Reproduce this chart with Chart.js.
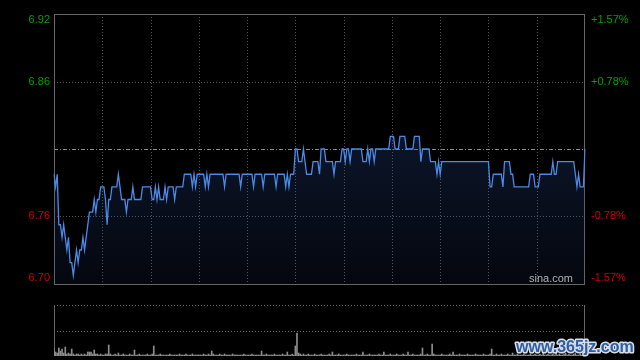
<!DOCTYPE html>
<html><head><meta charset="utf-8">
<script src="https://cdn.jsdelivr.net/npm/chart.js@4.4.1/dist/chart.umd.min.js"></script>
<style>
html,body{margin:0;padding:0;background:#000;width:640px;height:360px;overflow:hidden}
.box{position:absolute;left:0;width:640px}
</style></head><body>
<div class="box" style="top:0;height:300px"><canvas id="main" width="640" height="300"></canvas></div>
<div class="box" style="top:300px;height:60px"><canvas id="vol" width="640" height="60"></canvas></div>
<script>
// ---- data ----
const prevClose = 6.81;
const pctTicks = [1.57, 0.78, -0.78, -1.57];
const leftTickLabels = ['6.92', '6.86', '6.76', '6.70'];
const rightTickLabels = ['+1.57%', '+0.78%', '-0.78%', '-1.57%'];
const sessions = [['09:30', 150], ['13:00', 181]]; // start, minutes count

const prices = [
6.79,6.78,6.79,6.75,6.75,6.74,6.75,6.74,6.73,6.74,
6.72,6.72,6.71,6.72,6.73,6.72,6.73,6.73,6.74,6.73,
6.74,6.75,6.76,6.76,6.76,6.77,6.76,6.77,6.77,6.78,
6.78,6.78,6.77,6.75,6.77,6.77,6.78,6.78,6.78,6.78,
6.79,6.78,6.77,6.77,6.77,6.76,6.77,6.77,6.77,6.78,
6.77,6.77,6.77,6.77,6.77,6.78,6.78,6.78,6.78,6.78,
6.78,6.77,6.77,6.78,6.77,6.78,6.77,6.77,6.77,6.78,
6.77,6.78,6.78,6.78,6.78,6.77,6.78,6.78,6.78,6.78,
6.78,6.79,6.79,6.79,6.79,6.79,6.78,6.79,6.78,6.79,
6.79,6.79,6.79,6.79,6.78,6.79,6.78,6.79,6.79,6.79,
6.79,6.79,6.79,6.79,6.79,6.79,6.78,6.79,6.79,6.79,
6.79,6.79,6.79,6.79,6.79,6.79,6.78,6.79,6.79,6.79,
6.79,6.79,6.79,6.79,6.78,6.79,6.79,6.79,6.79,6.79,
6.78,6.79,6.79,6.79,6.79,6.79,6.79,6.79,6.78,6.79,
6.79,6.79,6.79,6.79,6.78,6.79,6.78,6.79,6.79,6.79,
6.81,6.81,6.80,6.80,6.80,6.81,6.80,6.79,6.79,6.79,
6.79,6.80,6.80,6.80,6.80,6.79,6.81,6.81,6.81,6.80,
6.80,6.80,6.80,6.80,6.79,6.80,6.80,6.80,6.80,6.81,
6.81,6.80,6.81,6.81,6.80,6.81,6.81,6.81,6.81,6.81,
6.81,6.81,6.80,6.80,6.80,6.81,6.80,6.81,6.81,6.80,
6.81,6.81,6.81,6.81,6.81,6.81,6.81,6.81,6.81,6.82,
6.82,6.82,6.81,6.81,6.81,6.82,6.82,6.82,6.82,6.81,
6.81,6.81,6.81,6.81,6.82,6.82,6.82,6.82,6.80,6.81,
6.81,6.81,6.81,6.81,6.80,6.80,6.80,6.80,6.79,6.80,
6.79,6.80,6.80,6.80,6.80,6.80,6.80,6.80,6.80,6.80,
6.80,6.80,6.80,6.80,6.80,6.80,6.80,6.80,6.80,6.80,
6.80,6.80,6.80,6.80,6.80,6.80,6.80,6.80,6.80,6.80,
6.80,6.78,6.78,6.79,6.79,6.79,6.79,6.79,6.79,6.78,
6.80,6.80,6.80,6.80,6.79,6.79,6.78,6.78,6.78,6.78,
6.78,6.78,6.78,6.78,6.78,6.78,6.79,6.79,6.79,6.78,
6.78,6.78,6.79,6.79,6.79,6.79,6.79,6.79,6.79,6.79,
6.80,6.79,6.79,6.80,6.80,6.80,6.80,6.80,6.80,6.80,
6.80,6.80,6.80,6.80,6.79,6.78,6.79,6.78,6.78,6.78,
6.81
];

const volumes = [
8,4,3,8,5,7,3,9,2,3, 2,7,2,1,2,2,1,2,1,2, 1,4,4,4,2,6,2,2,1,2,
1,1,2,2,11,2,1,1,2,1, 3,1,1,2,1,1,1,2,1,1, 6,1,1,2,1,1,1,1,2,1,
1,2,10,1,1,1,2,1,1,1, 1,1,2,1,1,1,1,1,2,1, 1,1,2,1,1,1,2,1,1,1,
1,1,1,2,1,1,2,1,5,2, 1,1,1,2,1,1,2,1,1,1, 1,2,1,1,1,1,1,1,2,1,
1,1,1,2,1,1,1,1,1,5, 1,1,2,1,1,1,1,2,1,1, 1,1,2,1,1,4,1,1,2,1,
10,23,3,2,1,2,1,1,2,1, 1,1,2,1,1,1,2,1,1,1, 1,2,1,4,1,1,1,2,1,1,
1,1,2,1,1,1,1,1,2,1, 1,1,4,1,1,1,2,1,1,1, 1,1,2,1,1,4,1,1,1,2,
1,1,1,2,1,1,1,2,1,1, 4,1,1,2,1,1,1,1,2,8, 1,1,2,1,1,12,2,1,1,1,
1,2,1,1,1,1,2,1,4,1, 1,1,2,1,1,1,1,2,1,1, 1,1,2,1,1,1,1,2,1,1,
1,2,7,1,1,2,1,1,2,1, 1,1,2,1,1,3,1,1,2,1, 1,1,2,1,1,1,2,1,1,2,
1,1,2,1,3,1,1,2,1,1, 2,1,3,1,2,1,1,2,3,1, 2,1,1,2,3,1,1,2,1,2,3
];

// time labels
const timeLabels = [];
sessions.forEach(([start, n]) => {
  let [h, m] = start.split(':').map(Number);
  for (let k = 0; k < n; k++) {
    timeLabels.push(String(h).padStart(2,'0') + ':' + String(m).padStart(2,'0'));
    m++; if (m === 60) { m = 0; h++; }
  }
});

const yMax = prevClose * (1 + pctTicks[0] / 100);
const yMin = prevClose * (1 + pctTicks[3] / 100);
const FONT = '11px "Liberation Sans", Arial, sans-serif';
const GREEN = '#00a000', RED = '#d00000';

function hline(ctx, x1, x2, y) { ctx.beginPath(); ctx.moveTo(x1, y); ctx.lineTo(x2, y); ctx.stroke(); }
function vline(ctx, x, y1, y2) { ctx.beginPath(); ctx.moveTo(x, y1); ctx.lineTo(x, y2); ctx.stroke(); }

const mainGrid = {
  id: 'mainGrid',
  beforeDatasetsDraw(chart) {
    const { ctx, chartArea: a, scales: { x, y } } = chart;
    ctx.save();
    ctx.lineWidth = 1;
    ctx.strokeStyle = '#555';
    ctx.setLineDash([1, 2]);
    for (let i = 30; i < timeLabels.length - 1; i += 30) {
      const px = Math.round(x.getPixelForValue(i)) + 0.5;
      vline(ctx, px, a.top, a.bottom);
    }
    [pctTicks[1], pctTicks[2]].forEach(p => {
      const py = Math.round(y.getPixelForValue(prevClose * (1 + p / 100))) + 0.5;
      hline(ctx, a.left, a.right, py);
    });
    ctx.strokeStyle = '#8a8a8a';
    ctx.setLineDash([4, 2, 1, 2]);
    hline(ctx, a.left, a.right, Math.round(y.getPixelForValue(prevClose)) + 0.5);
    ctx.setLineDash([]);
    ctx.strokeStyle = '#666';
    ctx.strokeRect(Math.round(a.left) + 0.5, Math.round(a.top) + 0.5, Math.round(a.right - a.left) - 1, Math.round(a.bottom - a.top));
    ctx.restore();
  },
  afterDraw(chart) {
    const { ctx, chartArea: a, scales: { y } } = chart;
    ctx.save();
    ctx.font = FONT;
    ctx.textBaseline = 'middle';
    pctTicks.forEach((p, k) => {
      let py = y.getPixelForValue(prevClose * (1 + p / 100));
      if (k === 0) py += 6;
      if (k === pctTicks.length - 1) py -= 6;
      ctx.fillStyle = p > 0 ? GREEN : RED;
      ctx.textAlign = 'right';
      ctx.fillText(leftTickLabels[k], a.left - 4, py);
      ctx.textAlign = 'left';
      ctx.fillText(rightTickLabels[k], a.right + 6, py);
    });
    ctx.fillStyle = '#b0b0b0';
    ctx.textAlign = 'right';
    ctx.fillText('sina.com', a.right - 12, a.bottom - 5);
    ctx.restore();
  }
};

new Chart(document.getElementById('main'), {
  type: 'line',
  data: {
    labels: timeLabels,
    datasets: [{
      data: prices,
      borderColor: '#4a8ae6',
      borderWidth: 1.3,
      pointRadius: 0,
      tension: 0,
      fill: 'start',
      backgroundColor: (c) => {
        const a = c.chart.chartArea;
        if (!a) return 'transparent';
        const g = c.chart.ctx.createLinearGradient(0, a.top, 0, a.bottom);
        g.addColorStop(0, 'rgba(40,70,140,0.45)');
        g.addColorStop(1, 'rgba(40,70,140,0.10)');
        return g;
      }
    }]
  },
  options: {
    responsive: false, animation: false,
    layout: { padding: { left: 54, right: 55, top: 14, bottom: 16 } },
    plugins: { legend: { display: false }, tooltip: { enabled: false } },
    scales: {
      x: { display: false, offset: false },
      y: { display: false, min: yMin, max: yMax }
    }
  },
  plugins: [mainGrid]
});

const volGrid = {
  id: 'volGrid',
  beforeDatasetsDraw(chart) {
    const { ctx, chartArea: a } = chart;
    ctx.save();
    ctx.lineWidth = 1;
    ctx.strokeStyle = '#666';
    ctx.setLineDash([1, 2]);
    hline(ctx, a.left, a.right, Math.round(a.top) + 0.5);
    hline(ctx, a.left, a.right, Math.round((a.top + a.bottom) / 2) + 0.5);
    ctx.setLineDash([]);
    vline(ctx, Math.round(a.left) + 0.5, a.top, a.bottom);
    vline(ctx, Math.round(a.right) - 0.5, a.top, a.bottom);
    ctx.restore();
  },
  afterDraw(chart) {
    const { ctx } = chart;
    ctx.save();
    ctx.font = 'bold 16px "Liberation Sans", Arial, sans-serif';
    ctx.textAlign = 'left';
    ctx.textBaseline = 'alphabetic';
    ctx.lineJoin = 'round';
    ctx.lineWidth = 3;
    ctx.strokeStyle = '#d8dde6';
    ctx.strokeText('www.365jz.com', 516, 52);
    ctx.fillStyle = '#2d5ea8';
    ctx.fillText('www.365jz.com', 516, 52);
    ctx.restore();
  }
};

new Chart(document.getElementById('vol'), {
  type: 'bar',
  data: {
    labels: timeLabels,
    datasets: [{ data: volumes, backgroundColor: '#8c8c8c', barThickness: 1, categoryPercentage: 1, barPercentage: 1 }]
  },
  options: {
    responsive: false, animation: false,
    layout: { padding: { left: 54, right: 55, top: 5, bottom: 4 } },
    plugins: { legend: { display: false }, tooltip: { enabled: false } },
    scales: {
      x: { display: false, offset: false },
      y: { display: false, min: 0, max: 51 }
    }
  },
  plugins: [volGrid]
});
</script>
</body></html>
